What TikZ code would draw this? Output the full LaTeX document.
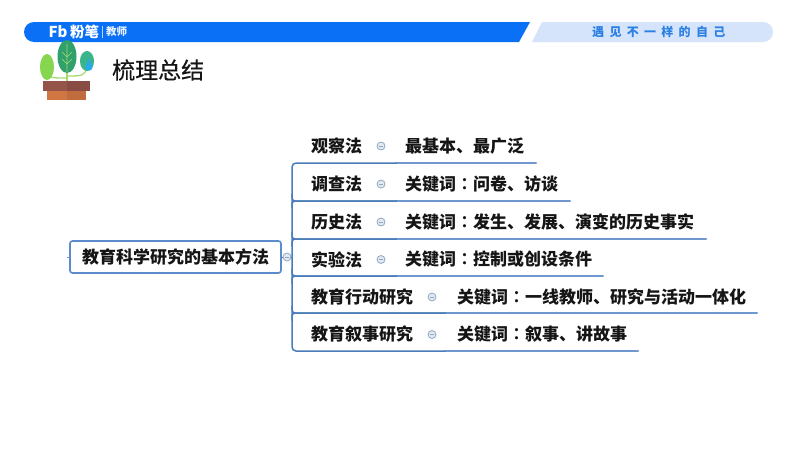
\documentclass[tikz,border=0pt]{standalone}
\usepackage{fontspec}
\setmainfont{Noto Sans CJK SC}
\newfontfamily\tcfont{Noto Sans CJK TC}[BoldFont={* Bold}]
\newfontfamily\titlefont{Noto Sans CJK SC}[FakeBold=0.5]
\newcommand{\cn}{{\tcfont ：}}
\definecolor{barblue}{HTML}{0A70F6}
\definecolor{barlight}{HTML}{D5E4FB}
\definecolor{slogan}{HTML}{2C80E2}
\definecolor{linedark}{HTML}{4A7DB8}
\definecolor{linelight}{HTML}{6F98D0}
\definecolor{rootline}{HTML}{5C8CCB}
\definecolor{knob}{HTML}{E2E9EF}
\definecolor{knobline}{HTML}{8FA9C4}
\definecolor{txt}{HTML}{151515}
\definecolor{stem}{HTML}{A8DA72}
\tikzset{
  x=1pt,y=-1pt,
  rootbox/.style={draw=rootline,line width=1.6pt,rounded corners=2.5pt,fill=white,minimum width=211pt,minimum height=32pt,inner sep=0pt,font=\bfseries\fontsize{17}{17}\selectfont,text=txt},
  topic/.style={anchor=west,inner sep=0pt,font=\bfseries\fontsize{17}{17}\selectfont,text=txt},
  knobdot/.style={circle,draw=knobline,fill=knob,line width=.8pt,minimum size=8pt,inner sep=0pt,
    path picture={\draw[knobline,line width=.5pt] ([xshift=-2pt]path picture bounding box.center) -- ([xshift=2pt]path picture bounding box.center);}},
  branch/.style={draw=linedark,line width=1.5pt,line cap=round},
  under/.style={draw=linelight,line width=2pt,line cap=round},
}
\begin{document}
\begin{tikzpicture}
\useasboundingbox (0,0) rectangle (800,450);
\fill[white] (0,0) rectangle (800,450);
% header bars
\fill[barblue] (530,22) -- (519,42) [rounded corners=10pt] -- (24,42) -- (24,22) [sharp corners] -- cycle;
\fill[barlight] (542,22) -- (532,42) [rounded corners=10pt] -- (773,42) -- (773,22) [sharp corners] -- cycle;
\node[inner sep=0pt,text=white] (logo) at (58,31.5) {\bfseries\fontsize{15}{15}\selectfont Fb};
\node[inner sep=0pt,text=white,anchor=west] (brand) at (70,31.5) {\bfseries\fontsize{14.5}{14.5}\selectfont 粉笔};
\fill[white!70!barblue] (102,26) rectangle (102.7,38);
\node[inner sep=0pt,text=white!90!barblue,anchor=west] (role) at (106,32) {\bfseries\fontsize{10.5}{10.5}\selectfont 教师};
\node[inner sep=0pt,text=slogan,anchor=west] (slogan) at (592,32) {\bfseries\fontsize{12}{12}\selectfont 遇\hspace{5.3pt}见\hspace{5.3pt}不\hspace{5.3pt}一\hspace{5.3pt}样\hspace{5.3pt}的\hspace{5.3pt}自\hspace{5.3pt}己};
% plant
\draw[stem,line width=1.3pt] (67,60) -- (67,81);
\draw[stem,line width=1.3pt] (47,72) .. controls (47,78) and (52,78) .. (66,78);
\draw[stem,line width=1.3pt] (86,68) .. controls (86,76) and (80,76) .. (68,76);
\fill[fill={rgb,255:red,134;green,214;blue,80}] (47,67) ellipse[x radius=7,y radius=13];
\fill[fill={rgb,255:red,48;green,160;blue,108}] (67,56.5) ellipse[x radius=9.5,y radius=16.5];
\fill[fill={rgb,255:red,58;green,181;blue,138}] (87,61) ellipse[x radius=7,y radius=10];
\fill[fill={rgb,255:red,40;green,170;blue,232}] (89,67) circle[radius=3.6];
\fill[fill={rgb,255:red,40;green,170;blue,232}] (86.2,65) -- (89,58) -- (91.8,65) -- cycle;
\draw[stem,line width=.7pt] (67,44) -- (67,72) (62,52) -- (67,57) -- (72,52) (62,59) -- (67,64) -- (72,59);
\fill[fill={rgb,255:red,148;green,84;blue,74}] (43,81) rectangle (67,91);
\fill[fill={rgb,255:red,136;green,76;blue,68}] (67,81) rectangle (90,91);
\fill[fill={rgb,255:red,208;green,118;blue,66}] (47,91) rectangle (67,100);
\fill[fill={rgb,255:red,192;green,108;blue,60}] (67,91) rectangle (86,100);
\node[inner sep=0pt,anchor=west,text=txt] (title) at (112,70) {\titlefont\fontsize{23}{23}\selectfont 梳理总结};
% mind map
\node[rootbox] (root) at (175.5,257) {教育科学研究的基本方法};
\node[knobdot] (rootknob) at (287,257) {};
\coordinate (rail) at (292,257);
\draw[branch,line width=1pt] (root.east) -- (rootknob.west);
\draw[branch,line width=1pt] (rootknob.east) -- (rail);
\coordinate (stub) at (67,257);
\draw[draw=linelight,line width=.8pt] (stub) -- (root.west);

\foreach \nm/\ty/\uy/\kx/\lx/\ex/\dx/\ta/\tb in {
  a/146/163/381/405/536/396/观察法/最基本、最广泛,
  b/184/201/381/405/570/396/调查法/关键词\cn 问卷、访谈,
  c/222/239/381/405/706/396/历史法/关键词\cn 发生、发展、演变的历史事实,
  d/259.5/276/381/405/603/396/实验法/关键词\cn 控制或创设条件,
  e/297/313/432/457/757/445/教育行动研究/关键词\cn 一线教师、研究与活动一体化,
  f/334.5/351/432/457/638/445/教育叙事研究/关键词\cn 叙事、讲故事}{
  \node[topic] (t\nm) at (311,\ty) {\ta};
  \node[knobdot] (k\nm) at (\kx,\ty) {};
  \node[topic] (v\nm) at (\lx,\ty) {\tb};
  \coordinate (j\nm) at (\dx,\uy);
  \coordinate (e\nm) at (\ex,\uy);
  \draw[under] (j\nm) -- (e\nm);
}
% rail: top and bottom corners, then inner branches
\draw[branch,rounded corners=4pt] (ja) -- (292,163) -- (292,351) -- (jf);
\foreach \nm/\uy in {b/201,c/239,d/276,e/313}{
  \draw[branch,rounded corners=3pt] (292,\uy-7) -- (292,\uy) -- (j\nm);
  \draw[branch,rounded corners=3pt] (292,\uy+7) -- (292,\uy) -- (j\nm);
}
\end{tikzpicture}
\end{document}
